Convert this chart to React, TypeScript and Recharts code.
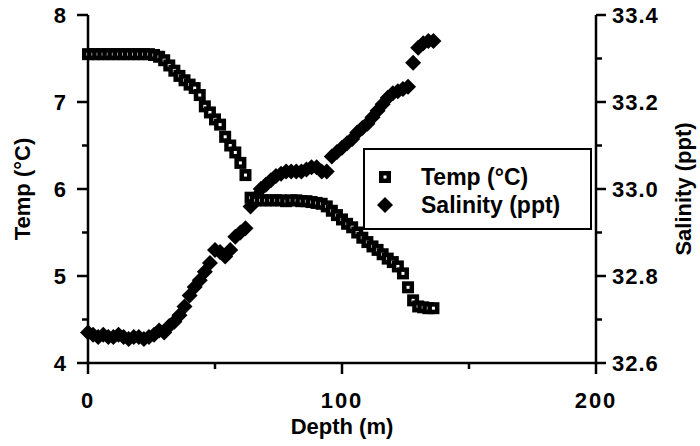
import React from 'react';
import { ScatterChart, Scatter, XAxis, YAxis } from 'recharts';

const depthM = [
    0, 2, 4, 6, 8, 10, 12, 14, 16, 18, 20, 22, 24, 26, 28, 30, 32, 34, 36, 38, 40, 42, 44, 46, 48, 50, 52, 54, 56, 58,
    60, 62, 64, 66, 68, 70, 72, 74, 76, 78, 80, 82, 84, 86, 88, 90, 92, 94, 96, 98, 100, 102, 104, 106, 108, 110, 112,
    114, 116, 118, 120, 122, 124, 126, 128, 130, 132, 134, 136,
];

const tempC = [
    7.55, 7.55, 7.55, 7.55, 7.55, 7.55, 7.55, 7.55, 7.55, 7.55, 7.55, 7.55, 7.55, 7.54, 7.52, 7.48, 7.42, 7.36, 7.3,
    7.25, 7.2, 7.16, 7.08, 6.95, 6.88, 6.8, 6.74, 6.6, 6.5, 6.42, 6.3, 6.16, 5.9, 5.87, 5.87, 5.87, 5.87, 5.87, 5.87,
    5.86, 5.87, 5.87, 5.86, 5.86, 5.85, 5.84, 5.83, 5.8, 5.75, 5.7, 5.65, 5.6, 5.56, 5.5, 5.44, 5.39, 5.34, 5.3, 5.25,
    5.2, 5.16, 5.11, 5.03, 4.87, 4.72, 4.65, 4.64, 4.63, 4.63,
];

const salinityPpt = [
    32.67, 32.665, 32.66, 32.665, 32.66, 32.66, 32.665, 32.66, 32.655, 32.66, 32.66, 32.655, 32.66, 32.665, 32.675,
    32.67, 32.685, 32.695, 32.71, 32.73, 32.755, 32.775, 32.79, 32.81, 32.83, 32.86, 32.855, 32.845, 32.86, 32.89, 32.9,
    32.91, 32.96, 32.98, 33.0, 33.01, 33.02, 33.03, 33.035, 33.04, 33.04, 33.04, 33.04, 33.045, 33.05, 33.05, 33.04,
    33.04, 33.075, 33.085, 33.095, 33.105, 33.115, 33.13, 33.14, 33.15, 33.165, 33.18, 33.195, 33.21, 33.22, 33.225,
    33.23, 33.235, 33.29, 33.325, 33.335, 33.34, 33.34,
];

const depthTicks = [0, 50, 100, 150, 200];
const tempTicks = [4, 4.5, 5, 5.5, 6, 6.5, 7, 7.5, 8];
const salinityTicks = [32.6, 32.7, 32.8, 32.9, 33.0, 33.1, 33.2, 33.3, 33.4];

const tempData = depthM.map((d, i) => ({ depth: d, value: tempC[i] }));
const salinityData = depthM.map((d, i) => ({ depth: d, value: salinityPpt[i] }));

const FONT = '"Liberation Sans", Arial, sans-serif';
const labelStyle = { fontFamily: FONT, fontWeight: 700, fontSize: 22, fill: '#000' };
const tickStyle = { ...labelStyle, letterSpacing: 2 };

const SquareMark = (props: any) => {
    const { cx, cy } = props;
    if (cx == null || cy == null) return null;
    return (
        <g>
            <rect x={cx - 6} y={cy - 6} width={12} height={12} fill="#000" />
            <rect x={cx - 1.5} y={cy - 1.5} width={3} height={3} fill="#fff" />
        </g>
    );
};

const DiamondMark = (props: any) => {
    const { cx, cy } = props;
    if (cx == null || cy == null) return null;
    return <path d={`M${cx},${cy - 8}L${cx + 8},${cy}L${cx},${cy + 8}L${cx - 8},${cy}Z`} fill="#000" />;
};

const LeftTick = (props: any) => {
    const { x, y, payload } = props;
    const major = Number.isInteger(payload.value);
    return (
        <g>
            <line x1={x} x2={x - (major ? 11 : 6)} y1={y} y2={y} stroke="#000" strokeWidth={2.5} />
            {major && (
                <text x={x - 20} y={y} dy={8} textAnchor="end" style={tickStyle}>
                    {payload.value}
                </text>
            )}
        </g>
    );
};

const RightTick = (props: any) => {
    const { x, y, payload } = props;
    const major = Math.round(payload.value * 10) % 2 === 0;
    return (
        <g>
            <line x1={x} x2={x + (major ? 10 : 6)} y1={y} y2={y} stroke="#000" strokeWidth={2.5} />
            {major && (
                <text x={x + 16} y={y} dy={8} textAnchor="start" style={{ ...tickStyle, letterSpacing: 1 }}>
                    {payload.value.toFixed(1)}
                </text>
            )}
        </g>
    );
};

const BottomTick = (props: any) => {
    const { x, y, payload } = props;
    const major = payload.value % 100 === 0;
    return (
        <g>
            <line x1={x} x2={x} y1={y} y2={y + (major ? 11 : 6)} stroke="#000" strokeWidth={2.5} />
            {major && (
                <text x={x} y={y + 45} textAnchor="middle" style={tickStyle}>
                    {payload.value}
                </text>
            )}
        </g>
    );
};

const LegendBox = () => (
    <div
        style={{
            position: 'absolute',
            left: 363,
            top: 148,
            width: 229,
            height: 82,
            border: '2.5px solid #000',
            background: '#fff',
            fontFamily: FONT,
            fontWeight: 700,
            fontSize: 23,
            boxSizing: 'border-box',
            padding: '13px 0 0 12px',
            lineHeight: '28px',
        }}
    >
        <div style={{ display: 'flex', alignItems: 'center' }}>
            <svg width={44} height={20}>
                <SquareMark cx={8} cy={10} />
            </svg>
            <span>Temp (°C)</span>
        </div>
        <div style={{ display: 'flex', alignItems: 'center' }}>
            <svg width={44} height={20}>
                <DiamondMark cx={8} cy={10} />
            </svg>
            <span>Salinity (ppt)</span>
        </div>
    </div>
);

const App: React.FC = () => {
    return (
        <div style={{ position: 'absolute', left: 0, top: 0, width: 700, height: 446, background: '#fff' }}>
            <ScatterChart width={700} height={446} margin={{ top: 15, right: 0, bottom: 0, left: 0 }}>
                <XAxis
                    xAxisId="bottom"
                    dataKey="depth"
                    type="number"
                    domain={[0, 200]}
                    ticks={depthTicks}
                    height={83}
                    axisLine={{ stroke: '#000', strokeWidth: 2.5 }}
                    tickLine={false}
                    tickSize={0}
                    tickMargin={0}
                    tick={<BottomTick />}
                    interval={0}
                    label={{ value: 'Depth (m)', position: 'insideBottom', offset: 12, style: labelStyle }}
                />
                <XAxis xAxisId="top" orientation="top" type="number" domain={[0, 200]} height={0} tick={false} tickLine={false} axisLine={{ stroke: '#000', strokeWidth: 2.5 }} />
                <YAxis
                    yAxisId="temp"
                    dataKey="value"
                    type="number"
                    domain={[4, 8]}
                    ticks={tempTicks}
                    width={88}
                    axisLine={{ stroke: '#000', strokeWidth: 2.5 }}
                    tickLine={false}
                    tickSize={0}
                    tickMargin={0}
                    tick={<LeftTick />}
                    interval={0}
                    label={{ value: 'Temp (°C)', angle: -90, position: 'insideLeft', offset: 22, style: { ...labelStyle, textAnchor: 'middle' } }}
                />
                <YAxis
                    yAxisId="sal"
                    orientation="right"
                    dataKey="value"
                    type="number"
                    domain={[32.6, 33.4]}
                    ticks={salinityTicks}
                    width={104}
                    axisLine={{ stroke: '#000', strokeWidth: 2.5 }}
                    tickLine={false}
                    tickSize={0}
                    tickMargin={0}
                    tick={<RightTick />}
                    interval={0}
                    label={{ value: 'Salinity (ppt)', angle: -90, position: 'insideRight', offset: 17, style: { ...labelStyle, textAnchor: 'middle' } }}
                />
                <Scatter xAxisId="bottom" yAxisId="sal" data={salinityData} shape={<DiamondMark />} isAnimationActive={false} />
                <Scatter xAxisId="bottom" yAxisId="temp" data={tempData} shape={<SquareMark />} isAnimationActive={false} />
            </ScatterChart>
            <LegendBox />
        </div>
    );
};

export default App;
